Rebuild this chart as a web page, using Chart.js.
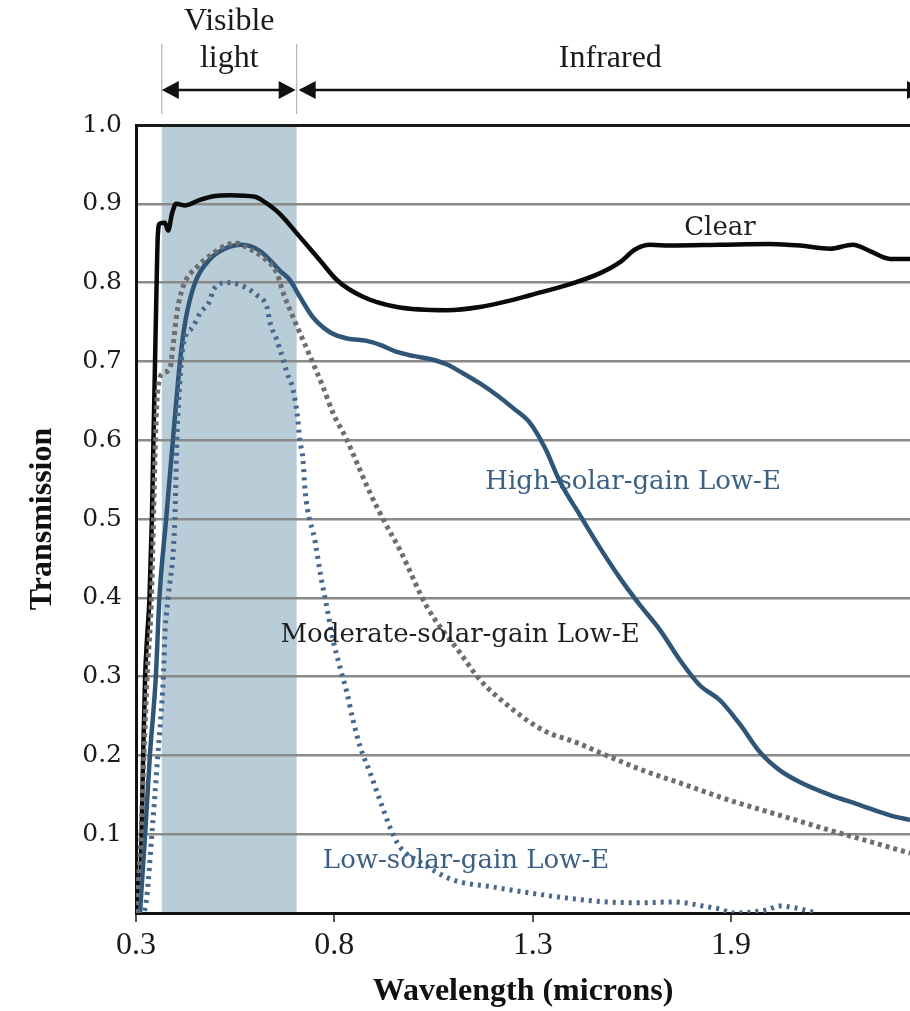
<!DOCTYPE html>
<html><head><meta charset="utf-8">
<script src="https://cdn.jsdelivr.net/npm/chart.js@4.4.1/dist/chart.umd.min.js"></script>
<style>html,body{margin:0;padding:0;background:#fff;overflow:hidden}#wrap{width:910px;height:1011px}</style>
</head><body><div id="wrap"><canvas id="c" width="910" height="1011"></canvas></div>
<script>
// ---- data (wavelength in microns, transmission fraction) ----
const clearX = [0.300,0.310,0.314,0.318,0.323,0.328,0.334,0.340,0.344,0.348,0.352,0.355,0.360,0.373,0.381,0.391,0.401,0.424,0.461,0.499,0.537,0.600,0.625,0.663,0.713,0.764,0.807,0.872,0.958,1.084,1.167,1.250,1.293,1.394,1.470,1.520,1.558,1.596,1.646,1.772,1.898,1.974,2.049,2.107,2.150,2.201,2.251];
const clearY = [0,0.03,0.10,0.20,0.30,0.35,0.40,0.50,0.60,0.70,0.80,0.86,0.875,0.876,0.866,0.888,0.900,0.898,0.905,0.910,0.911,0.909,0.902,0.887,0.858,0.828,0.803,0.782,0.769,0.765,0.769,0.778,0.784,0.798,0.812,0.826,0.842,0.848,0.847,0.848,0.849,0.847,0.843,0.848,0.840,0.830,0.830];

const highX = [0.310,0.323,0.335,0.350,0.359,0.376,0.393,0.411,0.424,0.449,0.487,0.524,0.567,0.613,0.663,0.688,0.713,0.746,0.789,0.832,0.882,0.915,0.958,0.998,1.041,1.084,1.124,1.167,1.210,1.250,1.293,1.331,1.369,1.419,1.470,1.520,1.570,1.621,1.671,1.721,1.772,1.823,1.873,1.923,1.974,2.049,2.125,2.201,2.251];
const highY = [0,0.10,0.20,0.30,0.40,0.50,0.60,0.70,0.75,0.80,0.83,0.843,0.848,0.84,0.815,0.803,0.782,0.756,0.737,0.729,0.726,0.721,0.712,0.707,0.703,0.696,0.685,0.672,0.657,0.641,0.622,0.59,0.547,0.505,0.463,0.425,0.391,0.359,0.321,0.289,0.27,0.239,0.204,0.181,0.166,0.15,0.137,0.124,0.118];

const moderateX = [0.300,0.313,0.320,0.328,0.339,0.344,0.349,0.355,0.368,0.386,0.393,0.403,0.418,0.454,0.494,0.529,0.555,0.580,0.620,0.655,0.671,0.696,0.721,0.746,0.771,0.797,0.832,0.857,0.890,0.928,0.966,1.034,1.117,1.167,1.243,1.326,1.412,1.495,1.578,1.671,1.797,1.923,2.049,2.133,2.251];
const moderateY = [0,0.10,0.20,0.30,0.40,0.50,0.60,0.664,0.685,0.692,0.718,0.761,0.794,0.82,0.837,0.848,0.85,0.844,0.832,0.812,0.787,0.756,0.727,0.698,0.668,0.634,0.60,0.571,0.533,0.495,0.46,0.388,0.33,0.296,0.261,0.232,0.216,0.198,0.181,0.165,0.143,0.124,0.105,0.093,0.076];

const lowX = [0.305,0.318,0.327,0.340,0.355,0.369,0.373,0.381,0.398,0.403,0.411,0.418,0.444,0.461,0.487,0.494,0.529,0.562,0.605,0.630,0.638,0.655,0.671,0.681,0.696,0.706,0.713,0.721,0.726,0.752,0.765,0.781,0.797,0.814,0.832,0.847,0.865,0.890,0.915,0.940,0.965,1.015,1.099,1.200,1.326,1.402,1.487,1.570,1.654,1.739,1.772,1.805,1.848,1.891,1.923,1.966,2.007];
const lowY = [0,0,0.02,0.10,0.20,0.30,0.355,0.40,0.50,0.60,0.676,0.718,0.744,0.761,0.778,0.79,0.80,0.797,0.784,0.769,0.749,0.727,0.702,0.685,0.664,0.634,0.60,0.575,0.537,0.47,0.43,0.388,0.346,0.312,0.279,0.245,0.211,0.178,0.143,0.109,0.084,0.065,0.042,0.033,0.023,0.018,0.014,0.013,0.014,0.008,0.005,0.0,0.001,0.004,0.009,0.006,0.001];

const xTickValues = [0.3, 0.8, 1.3, 1.8];
const xTickLabels = ['0.3', '0.8', '1.3', '1.9'];
const yTickLabels = ['', '0.1', '0.2', '0.3', '0.4', '0.5', '0.6', '0.7', '0.8', '0.9', '1.0'];

const visibleRange = [0.365, 0.705];
const rangeLabels = [['Visible', 'light'], ['Infrared']];

const curveLabels = ['Clear', 'High-solar-gain Low-E', 'Moderate-solar-gain Low-E', 'Low-solar-gain Low-E'];
const curveLabelX = [1.772, 1.553, 1.117, 1.132];
const curveLabelY = [0.869, 0.547, 0.353, 0.066];

// ---- build ----
const pts = (xs, ys) => xs.map((x, i) => ({x, y: ys[i]}));
const BLUE = '#305677';
const LOWBLUE = '#46698d';
const GRAY = '#6e6e6e';
const labelColors = ['#1f1f1f', '#3b6084', '#1f1f1f', '#3b6084'];

const decor = {
  id: 'decor',
  beforeDraw(chart) {
    const {ctx, chartArea: a, scales: {x}} = chart;
    ctx.save();
    ctx.fillStyle = '#fff';
    ctx.fillRect(0, 0, chart.width, chart.height);
    const x0 = x.getPixelForValue(visibleRange[0]);
    const x1 = x.getPixelForValue(visibleRange[1]);
    ctx.fillStyle = '#b9cdd9';
    ctx.fillRect(x0, a.top, x1 - x0, a.bottom - a.top);
    ctx.restore();
  },
  afterDraw(chart) {
    const {ctx, chartArea: a, scales: {x, y}} = chart;
    const x0 = x.getPixelForValue(visibleRange[0]);
    const x1 = x.getPixelForValue(visibleRange[1]);
    const xEnd = a.right + 14;
    ctx.save();
    // thin vertical guides
    ctx.strokeStyle = '#b5b5b5';
    ctx.lineWidth = 1.2;
    [x0, x1].forEach(px => { ctx.beginPath(); ctx.moveTo(px, 44); ctx.lineTo(px, 114); ctx.stroke(); });
    const ay = 90, hl = 17, hh = 9;
    const head = (tip, dir) => {
      ctx.beginPath();
      ctx.moveTo(tip, ay);
      ctx.lineTo(tip + dir * hl, ay - hh);
      ctx.lineTo(tip + dir * hl, ay + hh);
      ctx.closePath();
      ctx.fill();
    };
    ctx.strokeStyle = '#111';
    ctx.fillStyle = '#111';
    ctx.lineWidth = 2.5;
    ctx.beginPath(); ctx.moveTo(x0 + 4, ay); ctx.lineTo(x1 - 4, ay); ctx.stroke();
    ctx.beginPath(); ctx.moveTo(x1 + 4, ay); ctx.lineTo(xEnd - 4, ay); ctx.stroke();
    head(x0, 1); head(x1 - 1, -1); head(x1 + 2, 1); head(xEnd, -1);
    // range texts
    ctx.font = '32px "Liberation Serif"';
    ctx.fillStyle = '#1a1a1a';
    ctx.textAlign = 'center';
    ctx.textBaseline = 'middle';
    const cv = (x0 + x1) / 2;
    ctx.fillText(rangeLabels[0][0], cv, 22);
    ctx.fillText(rangeLabels[0][1], cv, 59);
    ctx.fillText(rangeLabels[1][0], (x1 + xEnd) / 2, 59);
    // curve labels
    ctx.font = '26px "DejaVu Serif"';
    curveLabels.forEach((t, i) => {
      ctx.fillStyle = labelColors[i];
      ctx.fillText(t, x.getPixelForValue(curveLabelX[i]), y.getPixelForValue(curveLabelY[i]));
    });
    ctx.restore();
  }
};

new Chart(document.getElementById('c'), {
  type: 'line',
  data: {
    datasets: [
      {label: 'Low-solar-gain Low-E', data: pts(lowX, lowY), borderColor: LOWBLUE, borderWidth: 5, borderDash: [3, 5]},
      {label: 'Moderate-solar-gain Low-E', data: pts(moderateX, moderateY), borderColor: GRAY, borderWidth: 5, borderDash: [4, 4]},
      {label: 'High-solar-gain Low-E', data: pts(highX, highY), borderColor: BLUE, borderWidth: 4.5},
      {label: 'Clear', data: pts(clearX, clearY), borderColor: '#0a0a0a', borderWidth: 4.5}
    ]
  },
  options: {
    responsive: false,
    devicePixelRatio: 1,
    animation: false,
    layout: {padding: {top: 125, right: 0, left: 0, bottom: 0}},
    elements: {point: {radius: 0}, line: {cubicInterpolationMode: 'monotone', fill: false, borderCapStyle: 'butt'}},
    plugins: {legend: {display: false}, tooltip: {enabled: false}},
    scales: {
      x: {
        type: 'linear', min: 0.3, max: 2.251,
        afterFit(s) { s.height = 98; },
        afterBuildTicks(s) { s.ticks = xTickValues.map(v => ({value: v})); },
        ticks: {
          autoSkip: false, maxRotation: 0, padding: 4, color: '#1a1a1a',
          font: {family: 'Liberation Serif', size: 32},
          callback: (v, i) => xTickLabels[i]
        },
        grid: {drawOnChartArea: false, drawTicks: true, tickLength: 9, color: '#555', lineWidth: 2},
        border: {display: true, color: '#111', width: 3},
        title: {display: true, text: 'Wavelength (microns)', color: '#111',
                font: {family: 'Liberation Serif', size: 32, weight: 'bold'}, padding: {top: 0, bottom: 0}}
      },
      y: {
        type: 'linear', min: 0, max: 1,
        afterFit(s) { s.width = 136; },
        ticks: {
          stepSize: 0.1, padding: 14, color: '#1a1a1a',
          font: {family: 'DejaVu Serif', size: 25},
          callback: (v, i) => yTickLabels[i]
        },
        grid: {
          drawTicks: false,
          color: c => (c.tick && c.tick.value > 0.999) ? '#1a1a1a' : (c.tick && c.tick.value < 0.001 ? 'rgba(0,0,0,0)' : '#8a8a8a'),
          lineWidth: c => (c.tick && c.tick.value > 0.999) ? 3 : 2.5
        },
        border: {display: true, color: '#111', width: 3},
        title: {display: true, text: 'Transmission', color: '#111',
                font: {family: 'Liberation Serif', size: 32, weight: 'bold'}, padding: {top: 24, bottom: 0}}
      }
    }
  },
  plugins: [decor]
});
</script>
</body></html>
